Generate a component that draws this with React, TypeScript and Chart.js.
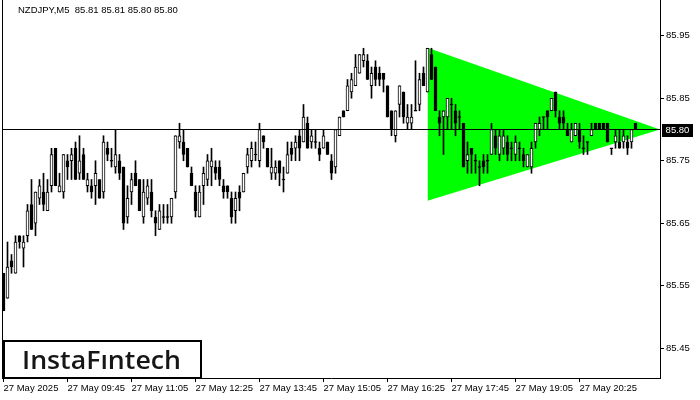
import { useEffect, useRef } from "react";
import { Chart, registerables } from "chart.js";

Chart.register(...registerables);

const symbolTitle = "NZDJPY,M5";

const opens = [
  85.57, 85.53, 85.59, 85.57, 85.63, 85.61, 85.63, 85.68, 85.65, 85.69,
  85.70, 85.67, 85.71, 85.77, 85.70, 85.70, 85.75, 85.75, 85.77, 85.73,
  85.76, 85.71, 85.71, 85.71, 85.72, 85.70, 85.77, 85.75, 85.74, 85.75,
  85.74, 85.66, 85.70, 85.73, 85.72, 85.66, 85.69, 85.70, 85.66, 85.64,
  85.66, 85.66, 85.66, 85.70, 85.78, 85.78, 85.77, 85.73, 85.70, 85.66,
  85.71, 85.72, 85.74, 85.74, 85.74, 85.71, 85.71, 85.69, 85.67, 85.70,
  85.70, 85.74, 85.75, 85.76, 85.75, 85.79, 85.77, 85.73, 85.73, 85.75,
  85.72, 85.73, 85.77, 85.77, 85.79, 85.78, 85.81, 85.78, 85.78, 85.77,
  85.77, 85.78, 85.75, 85.74, 85.79, 85.83, 85.83, 85.86, 85.87, 85.89,
  85.91, 85.91, 85.87, 85.90, 85.89, 85.89, 85.87, 85.83, 85.79, 85.84,
  85.86, 85.81, 85.81, 85.83, 85.84, 85.89, 85.86, 85.92, 85.90, 85.82,
  85.82, 85.82, 85.84, 85.83, 85.82, 85.81, 85.75, 85.77, 85.75, 85.74,
  85.75, 85.75, 85.76, 85.79, 85.76, 85.77, 85.78, 85.77, 85.76, 85.77,
  85.76, 85.74, 85.74, 85.78, 85.80, 85.82, 85.83, 85.83, 85.86, 85.82,
  85.82, 85.80, 85.78, 85.79, 85.80, 85.77, 85.78, 85.79, 85.81, 85.81,
  85.81, 85.81, 85.77, 85.78, 85.78, 85.78, 85.78, 85.78, 85.81,
];
const highs = [
  85.57, 85.62, 85.60, 85.63, 85.63, 85.63, 85.68, 85.72, 85.70, 85.72,
  85.73, 85.72, 85.77, 85.77, 85.73, 85.76, 85.76, 85.77, 85.78, 85.79,
  85.77, 85.73, 85.72, 85.75, 85.72, 85.79, 85.78, 85.77, 85.80, 85.76,
  85.74, 85.71, 85.73, 85.75, 85.72, 85.72, 85.72, 85.72, 85.67, 85.68,
  85.68, 85.68, 85.69, 85.79, 85.81, 85.80, 85.77, 85.74, 85.71, 85.71,
  85.74, 85.76, 85.77, 85.75, 85.75, 85.72, 85.71, 85.70, 85.70, 85.71,
  85.73, 85.77, 85.78, 85.78, 85.81, 85.79, 85.77, 85.77, 85.75, 85.75,
  85.74, 85.78, 85.78, 85.79, 85.80, 85.84, 85.82, 85.80, 85.80, 85.78,
  85.80, 85.78, 85.76, 85.80, 85.82, 85.83, 85.88, 85.89, 85.92, 85.92,
  85.93, 85.92, 85.90, 85.91, 85.90, 85.89, 85.87, 85.83, 85.83, 85.87,
  85.86, 85.84, 85.84, 85.91, 85.89, 85.90, 85.93, 85.93, 85.90, 85.83,
  85.83, 85.85, 85.85, 85.84, 85.83, 85.81, 85.78, 85.77, 85.76, 85.75,
  85.76, 85.76, 85.81, 85.80, 85.80, 85.80, 85.79, 85.78, 85.79, 85.78,
  85.77, 85.76, 85.78, 85.81, 85.82, 85.82, 85.83, 85.85, 85.86, 85.83,
  85.83, 85.81, 85.81, 85.81, 85.81, 85.79, 85.78, 85.81, 85.81, 85.81,
  85.81, 85.81, 85.77, 85.80, 85.80, 85.80, 85.79, 85.80, 85.81,
];
const lows = [
  85.51, 85.53, 85.57, 85.57, 85.61, 85.58, 85.62, 85.64, 85.63, 85.68,
  85.67, 85.67, 85.70, 85.71, 85.70, 85.69, 85.72, 85.72, 85.72, 85.72,
  85.72, 85.70, 85.69, 85.68, 85.69, 85.69, 85.75, 85.74, 85.73, 85.72,
  85.64, 85.65, 85.68, 85.71, 85.67, 85.65, 85.68, 85.66, 85.63, 85.64,
  85.65, 85.65, 85.65, 85.69, 85.77, 85.75, 85.74, 85.71, 85.66, 85.66,
  85.68, 85.71, 85.71, 85.72, 85.71, 85.69, 85.69, 85.65, 85.65, 85.67,
  85.70, 85.73, 85.74, 85.75, 85.74, 85.77, 85.74, 85.72, 85.72, 85.71,
  85.70, 85.73, 85.75, 85.75, 85.75, 85.78, 85.77, 85.77, 85.77, 85.75,
  85.77, 85.76, 85.72, 85.73, 85.79, 85.82, 85.83, 85.85, 85.87, 85.89,
  85.90, 85.88, 85.85, 85.87, 85.87, 85.86, 85.82, 85.79, 85.78, 85.82,
  85.81, 85.80, 85.80, 85.83, 85.83, 85.87, 85.86, 85.88, 85.83, 85.79,
  85.76, 85.80, 85.80, 85.79, 85.80, 85.74, 85.73, 85.73, 85.73, 85.71,
  85.73, 85.73, 85.76, 85.76, 85.75, 85.76, 85.75, 85.75, 85.75, 85.75,
  85.74, 85.74, 85.73, 85.77, 85.79, 85.80, 85.80, 85.83, 85.82, 85.80,
  85.80, 85.79, 85.78, 85.79, 85.77, 85.76, 85.76, 85.79, 85.80, 85.80,
  85.80, 85.78, 85.76, 85.77, 85.77, 85.77, 85.76, 85.77, 85.80,
];
const closes = [
  85.51, 85.58, 85.58, 85.62, 85.62, 85.62, 85.67, 85.64, 85.70, 85.71,
  85.68, 85.70, 85.76, 85.71, 85.71, 85.76, 85.74, 85.76, 85.72, 85.75,
  85.72, 85.72, 85.70, 85.73, 85.69, 85.78, 85.76, 85.75, 85.76, 85.73,
  85.65, 85.69, 85.72, 85.71, 85.67, 85.70, 85.71, 85.67, 85.65, 85.67,
  85.66, 85.66, 85.69, 85.79, 85.79, 85.76, 85.74, 85.71, 85.67, 85.70,
  85.73, 85.75, 85.75, 85.73, 85.72, 85.70, 85.70, 85.66, 85.69, 85.69,
  85.73, 85.76, 85.77, 85.76, 85.80, 85.78, 85.74, 85.74, 85.74, 85.73,
  85.72, 85.76, 85.76, 85.78, 85.77, 85.82, 85.77, 85.79, 85.78, 85.76,
  85.79, 85.76, 85.73, 85.80, 85.82, 85.82, 85.87, 85.88, 85.90, 85.92,
  85.92, 85.88, 85.89, 85.88, 85.88, 85.88, 85.82, 85.80, 85.83, 85.87,
  85.82, 85.82, 85.82, 85.83, 85.88, 85.87, 85.93, 85.88, 85.83, 85.81,
  85.83, 85.85, 85.84, 85.81, 85.82, 85.74, 85.76, 85.76, 85.75, 85.74,
  85.74, 85.75, 85.80, 85.77, 85.79, 85.79, 85.76, 85.77, 85.78, 85.77,
  85.75, 85.76, 85.77, 85.81, 85.81, 85.82, 85.82, 85.85, 85.83, 85.81,
  85.81, 85.79, 85.80, 85.81, 85.78, 85.77, 85.78, 85.80, 85.80, 85.80,
  85.80, 85.78, 85.77, 85.79, 85.77, 85.79, 85.77, 85.80, 85.80,
];

const timeTickIndex = [0, 16, 32, 48, 64, 80, 96, 112, 128, 144];
const timeTickLabels = [
  "27 May 2025", "27 May 09:45", "27 May 11:05", "27 May 12:25", "27 May 13:45",
  "27 May 15:05", "27 May 16:25", "27 May 17:45", "27 May 19:05", "27 May 20:25",
];
const priceTicks = [85.45, 85.55, 85.65, 85.75, 85.85, 85.95];
const bidPrice = 85.8;

// symmetrical triangle pattern: [start index, apex index], prices
const triangleX = [106, 164.125];
const triangleUpper = [85.931, 85.8];
const triangleLower = [85.686, 85.8];

const Y_MAX = 86.0072;
const Y_MIN = 85.4024;
const X_MIN = -0.375;
const X_MAX = 164.125;
const FONT = '"Liberation Sans", Arial, sans-serif';

export default function App() {
  const ref = useRef<HTMLCanvasElement | null>(null);

  useEffect(() => {
    document.body.style.margin = "0";
    const canvas = ref.current;
    if (!canvas) return;

    const halfPx = 0.5 / 625;
    const bodies = opens.map((o, i) => {
      const c = closes[i];
      const lo = Math.min(o, c);
      const hi = Math.max(o, c);
      return { x: i, y: lo === hi ? [lo - halfPx, hi + halfPx] : [lo, hi] };
    });
    const bodyColors = opens.map((o, i) => (closes[i] > o ? "#ffffff" : "#000000"));
    const wicks = highs.map((h, i) => ({ x: i, y: [lows[i], h] }));

    const last = opens.length - 1;
    const title = `${symbolTitle}  ${opens[last].toFixed(2)} ${highs[last].toFixed(2)} ${lows[last].toFixed(2)} ${closes[last].toFixed(2)}`;

    const overlay = {
      id: "overlay",
      afterDraw(chart: any) {
        const { ctx, chartArea, scales } = chart;
        ctx.save();
        ctx.strokeStyle = "#000";
        ctx.lineWidth = 1;
        ctx.beginPath();
        ctx.moveTo(chartArea.left + 0.5, chartArea.top);
        ctx.lineTo(chartArea.left + 0.5, chartArea.bottom);
        ctx.stroke();

        ctx.font = `9.5px ${FONT}`;
        ctx.fillStyle = "#000";
        ctx.textBaseline = "middle";
        ctx.textAlign = "left";
        ctx.fillText(title, 18, 10);

        const py = scales.y.getPixelForValue(bidPrice);
        ctx.fillStyle = "#000";
        ctx.fillRect(chartArea.right + 2, Math.round(py) - 6, 31, 13);
        ctx.fillStyle = "#fff";
        ctx.textAlign = "center";
        ctx.fillText(bidPrice.toFixed(2), chartArea.right + 17.5, Math.round(py) + 0.5);

        // logo
        ctx.fillStyle = "#fff";
        ctx.fillRect(4, 341, 197, 37);
        ctx.strokeStyle = "#000";
        ctx.lineWidth = 2;
        ctx.strokeRect(4, 341, 197, 37);
        const logo = "InstaF\u0131ntech";
        ctx.font = `600 26px "Open Sans", sans-serif`;
        const w = ctx.measureText(logo).width;
        ctx.translate(22, 368.5);
        ctx.scale(159 / w, 1);
        ctx.fillStyle = "#161616";
        ctx.textAlign = "left";
        ctx.textBaseline = "alphabetic";
        ctx.fillText(logo, 0, 0);
        ctx.restore();
      },
    };

    const chart = new Chart(canvas, {
      type: "bar",
      data: {
        datasets: [
          {
            type: "line",
            data: [
              { x: X_MIN, y: bidPrice },
              { x: X_MAX, y: bidPrice },
            ],
            borderColor: "#000",
            borderWidth: 1,
            pointRadius: 0,
            fill: false,
            order: 0,
          } as any,
          {
            type: "bar",
            data: bodies,
            backgroundColor: bodyColors,
            borderColor: "#000",
            borderWidth: 1,
            borderSkipped: false,
            grouped: false,
            barThickness: 3,
            maxBarThickness: 3,
            order: 1,
          } as any,
          {
            type: "bar",
            data: wicks,
            backgroundColor: "#000",
            borderWidth: 0,
            grouped: false,
            barThickness: 1,
            maxBarThickness: 1,
            order: 2,
          } as any,
          {
            type: "line",
            data: triangleX.map((x, i) => ({ x, y: triangleUpper[i] })),
            borderWidth: 0,
            borderColor: "rgba(0,0,0,0)",
            backgroundColor: "#00ff00",
            pointRadius: 0,
            fill: "+1",
            order: 3,
          } as any,
          {
            type: "line",
            data: triangleX.map((x, i) => ({ x, y: triangleLower[i] })),
            borderWidth: 0,
            borderColor: "rgba(0,0,0,0)",
            pointRadius: 0,
            fill: false,
            order: 4,
          } as any,
        ],
      },
      options: {
        animation: false,
        responsive: false,
        events: [],
        layout: { padding: { left: 2, right: 0, top: 0, bottom: 0 } },
        plugins: { legend: { display: false }, tooltip: { enabled: false } },
        scales: {
          x: {
            type: "linear",
            min: X_MIN,
            max: X_MAX,
            offset: false,
            grid: { display: true, drawOnChartArea: false, drawTicks: true, tickLength: 4, color: "#000", offset: false },
            border: { display: true, color: "#000" },
            afterBuildTicks: (s: any) => {
              s.ticks = timeTickIndex.map((v) => ({ value: v }));
            },
            afterFit: (s: any) => {
              s.height = 22;
              s.paddingLeft = 0;
              s.paddingRight = 0;
            },
            ticks: {
              autoSkip: false,
              maxRotation: 0,
              minRotation: 0,
              align: "start",
              padding: 1,
              color: "#000",
              font: { family: FONT, size: 9.5 },
              callback: (v: any) => {
                const k = timeTickIndex.indexOf(Number(v));
                return k >= 0 ? timeTickLabels[k] : "";
              },
            },
          },
          y: {
            type: "linear",
            position: "right",
            min: Y_MIN,
            max: Y_MAX,
            grid: { display: true, drawOnChartArea: false, drawTicks: true, tickLength: 4, color: "#000" },
            border: { display: true, color: "#000" },
            afterBuildTicks: (s: any) => {
              s.ticks = priceTicks.map((v) => ({ value: v }));
            },
            afterFit: (s: any) => {
              s.width = 40;
              s.paddingTop = 0;
              s.paddingBottom = 0;
            },
            ticks: {
              padding: 2,
              color: "#000",
              font: { family: FONT, size: 9.5 },
              callback: (v: any) => Number(v).toFixed(2),
            },
          },
        },
      } as any,
      plugins: [overlay],
    });

    return () => chart.destroy();
  }, []);

  return (
    <div style={{ width: 700, height: 400 }}>
      <canvas ref={ref} width={700} height={400} style={{ display: "block", width: 700, height: 400 }} />
    </div>
  );
}
